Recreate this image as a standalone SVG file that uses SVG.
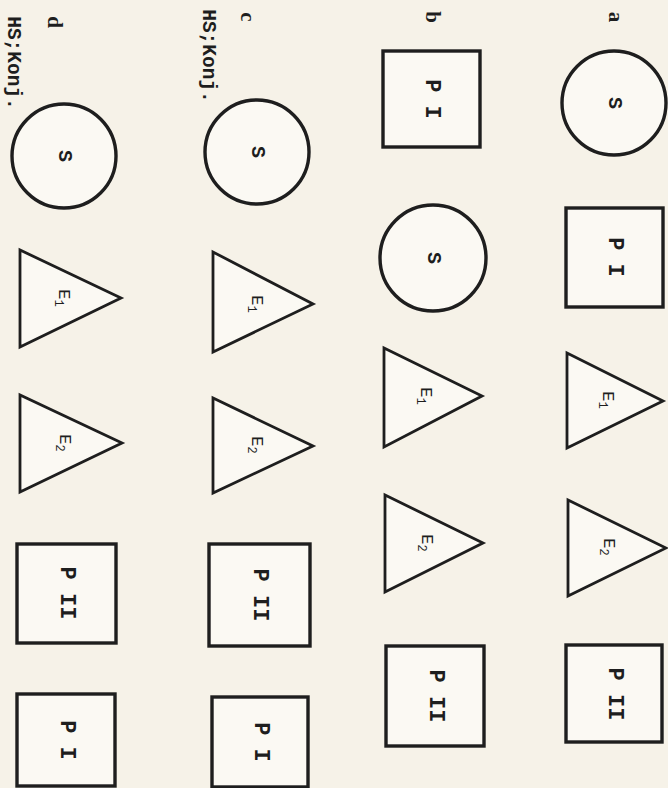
<svg xmlns="http://www.w3.org/2000/svg" width="668" height="788" viewBox="0 0 668 788">
<style>
.bg{fill:#f6f2e8}
.sh{fill:#fbf9f3;stroke:#1e1e1e;stroke-width:3.4}
.tr{fill:#fbf9f3;stroke:#1e1e1e;stroke-width:2.8;stroke-linejoin:miter}
.t{font-family:"Liberation Mono",monospace;font-weight:bold;fill:#1e1e1e;text-anchor:middle;dominant-baseline:central}
.p{font-size:22px}
.s{font-size:20px}
.e{font-size:17px;font-weight:normal}
.sub{font-size:12px}
.lab{font-family:"Liberation Serif",serif;font-size:21px}
.hs{font-size:19.5px}
</style>
<rect class="bg" x="0" y="0" width="668" height="788"/>

<!-- Row a -->
<g id="a-label"><text class="t lab" transform="translate(616,17) rotate(90)">a</text></g>
<g id="a-S"><circle class="sh" cx="614" cy="103" r="52"/><text class="t s" transform="translate(614,103) rotate(90)">S</text></g>
<g id="a-PI"><rect class="sh" x="566" y="208" width="97" height="99"/><text class="t p" transform="translate(614,257) rotate(90)">P I</text></g>
<g id="a-E1"><polygon class="tr" points="567,353 567,448 663,401"/><text class="t e" transform="translate(607,400) rotate(90)">E<tspan class="sub" dy="5">1</tspan></text></g>
<g id="a-E2"><polygon class="tr" points="568,500 568,596 666,548"/><text class="t e" transform="translate(608,547) rotate(90)">E<tspan class="sub" dy="5">2</tspan></text></g>
<g id="a-PII"><rect class="sh" x="566" y="645" width="96" height="97"/><text class="t p" transform="translate(614,694) rotate(90)">P II</text></g>

<!-- Row b -->
<g id="b-label"><text class="t lab" transform="translate(433,17) rotate(90)">b</text></g>
<g id="b-PI"><rect class="sh" x="383" y="51" width="97" height="96"/><text class="t p" transform="translate(431,99) rotate(90)">P I</text></g>
<g id="b-S"><circle class="sh" cx="433" cy="258" r="53"/><text class="t s" transform="translate(433,258) rotate(90)">S</text></g>
<g id="b-E1"><polygon class="tr" points="384,348 384,447 482,396"/><text class="t e" transform="translate(425,396) rotate(90)">E<tspan class="sub" dy="5">1</tspan></text></g>
<g id="b-E2"><polygon class="tr" points="385,495 385,592 483,543"/><text class="t e" transform="translate(426,543) rotate(90)">E<tspan class="sub" dy="5">2</tspan></text></g>
<g id="b-PII"><rect class="sh" x="386" y="646" width="98" height="100"/><text class="t p" transform="translate(435,696) rotate(90)">P II</text></g>

<!-- Row c -->
<g id="c-label"><text class="t lab" transform="translate(248,17) rotate(90)">c</text><text class="t hs" transform="translate(208,56) rotate(90)">HS;Konj.</text></g>
<g id="c-S"><circle class="sh" cx="257" cy="152" r="52"/><text class="t s" transform="translate(257,152) rotate(90)">S</text></g>
<g id="c-E1"><polygon class="tr" points="213,252 213,352 313,304"/><text class="t e" transform="translate(256,304) rotate(90)">E<tspan class="sub" dy="5">1</tspan></text></g>
<g id="c-E2"><polygon class="tr" points="213,398 213,493 313,446"/><text class="t e" transform="translate(256,445) rotate(90)">E<tspan class="sub" dy="5">2</tspan></text></g>
<g id="c-PII"><rect class="sh" x="209" y="544" width="101" height="102"/><text class="t p" transform="translate(259,595) rotate(90)">P II</text></g>
<g id="c-PI"><rect class="sh" x="212" y="697" width="96" height="90"/><text class="t p" transform="translate(260,742) rotate(90)">P I</text></g>

<!-- Row d -->
<g id="d-label"><text class="t lab" transform="translate(55,22) rotate(90)">d</text><text class="t hs" transform="translate(13,63) rotate(90)">HS;Konj.</text></g>
<g id="d-S"><circle class="sh" cx="64" cy="156" r="52"/><text class="t s" transform="translate(64,156) rotate(90)">S</text></g>
<g id="d-E1"><polygon class="tr" points="20,250 20,347 121,298"/><text class="t e" transform="translate(63,298) rotate(90)">E<tspan class="sub" dy="5">1</tspan></text></g>
<g id="d-E2"><polygon class="tr" points="20,395 20,492 122,443"/><text class="t e" transform="translate(64,443) rotate(90)">E<tspan class="sub" dy="5">2</tspan></text></g>
<g id="d-PII"><rect class="sh" x="17" y="544" width="99" height="99"/><text class="t p" transform="translate(66,593) rotate(90)">P II</text></g>
<g id="d-PI"><rect class="sh" x="17" y="694" width="98" height="92"/><text class="t p" transform="translate(66,740) rotate(90)">P I</text></g>

<g id="connectors"></g>
</svg>
